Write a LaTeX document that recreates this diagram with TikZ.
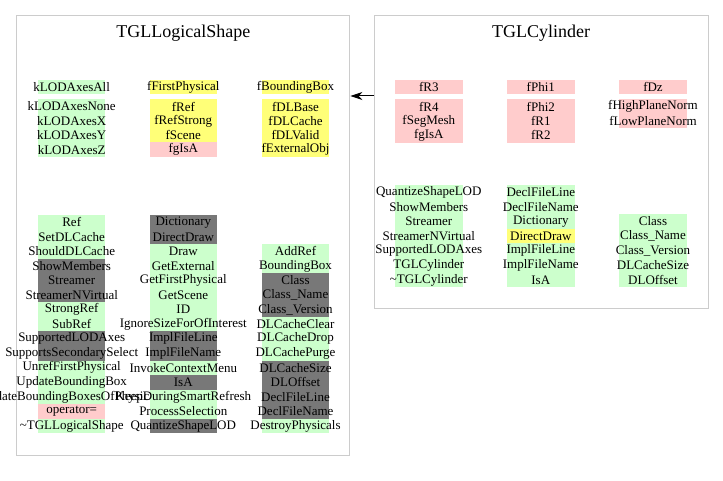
\documentclass[tikz,border=0pt]{standalone}
\usepackage{fontspec}
\setmainfont{Liberation Serif}
\usetikzlibrary{arrows.meta}
\newlength{\du}
\setlength{\du}{1pt}

\tikzset{
  member/.style={minimum width=67.5\du, minimum height=14.6\du, inner sep=0pt, outer sep=0pt,
    font=\fontsize{13}{14}\selectfont,
    execute at begin node={\hbox to 0pt\bgroup\hss},
    execute at end node={\hss\egroup}},
  pubm/.style={member, fill=pubcolor},
  protm/.style={member, fill=protcolor},
  privm/.style={member, fill=privcolor},
  inhm/.style={member, fill=inhcolor},
  classbox/.style={draw=boxcolor, line width=1\du, inner sep=0pt},
  classname/.style={inner sep=0pt, font=\fontsize{18}{20}\selectfont},
  inhline/.style={line width=1\du, -{Stealth[length=12pt, width=8pt]}}
}

\begin{document}
\begin{tikzpicture}
\pgftransformxscale{1.000000}
\pgftransformyscale{-1.000000}
\definecolor{pubcolor}{rgb}{0.800000, 1.000000, 0.800000}
\definecolor{protcolor}{rgb}{1.000000, 1.000000, 0.470000}
\definecolor{privcolor}{rgb}{1.000000, 0.800000, 0.800000}
\definecolor{inhcolor}{rgb}{0.470000, 0.470000, 0.470000}
\definecolor{boxcolor}{rgb}{0.800000, 0.800000, 0.800000}
\useasboundingbox (0\du,0\du) rectangle (723\du,481\du);
% class frames
\node[classbox, minimum width=333.3\du, minimum height=439\du] (lsBox) at (183.3\du,235.5\du) {};
\node[classbox, minimum width=334\du, minimum height=292\du] (cyBox) at (541\du,162\du) {};
\node[classname] (lsName) at (183.3\du,33\du) {TGLLogicalShape};
\node[classname] (cyName) at (541\du,33\du) {TGLCylinder};
% TGLLogicalShape data members
\node[pubm] (lsD11) at (71.7\du,87\du) {kLODAxesAll};
\node[pubm] (lsD12) at (71.7\du,106.5\du) {kLODAxesNone};
\node[pubm] (lsD13) at (71.7\du,120.9\du) {kLODAxesX};
\node[pubm] (lsD14) at (71.7\du,135.3\du) {kLODAxesY};
\node[pubm] (lsD15) at (71.7\du,149.7\du) {kLODAxesZ};
\node[protm] (lsD21) at (183.3\du,87\du) {fFirstPhysical};
\node[protm] (lsD22) at (183.3\du,106.5\du) {fRef};
\node[protm] (lsD23) at (183.3\du,120.9\du) {fRefStrong};
\node[protm] (lsD24) at (183.3\du,135.3\du) {fScene};
\node[privm] (lsD25) at (183.3\du,149.7\du) {fgIsA};
\node[protm] (lsD31) at (295.5\du,87\du) {fBoundingBox};
\node[protm] (lsD32) at (295.5\du,106.5\du) {fDLBase};
\node[protm] (lsD33) at (295.5\du,120.9\du) {fDLCache};
\node[protm] (lsD34) at (295.5\du,135.3\du) {fDLValid};
\node[protm] (lsD35) at (295.5\du,149.7\du) {fExternalObj};
% TGLLogicalShape methods
\node[pubm] (lsM101) at (71.7\du,222.3\du) {Ref};
\node[pubm] (lsM102) at (71.7\du,236.8\du) {SetDLCache};
\node[pubm] (lsM103) at (71.7\du,251.4\du) {ShouldDLCache};
\node[inhm] (lsM104) at (71.7\du,265.9\du) {ShowMembers};
\node[inhm] (lsM105) at (71.7\du,280.5\du) {Streamer};
\node[inhm] (lsM106) at (71.7\du,295.0\du) {StreamerNVirtual};
\node[pubm] (lsM107) at (71.7\du,309.6\du) {StrongRef};
\node[pubm] (lsM108) at (71.7\du,324.1\du) {SubRef};
\node[inhm] (lsM109) at (71.7\du,338.7\du) {SupportedLODAxes};
\node[inhm] (lsM110) at (71.7\du,353.2\du) {SupportsSecondarySelect};
\node[pubm] (lsM111) at (71.7\du,367.8\du) {UnrefFirstPhysical};
\node[pubm] (lsM112) at (71.7\du,382.3\du) {UpdateBoundingBox};
\node[pubm] (lsM113) at (71.7\du,396.9\du) {UpdateBoundingBoxesOfPhysicals};
\node[privm] (lsM114) at (71.7\du,411.4\du) {operator=};
\node[pubm] (lsM115) at (71.7\du,426.0\du) {\textasciitilde TGLLogicalShape};
\node[inhm] (lsM201) at (183.3\du,222.3\du) {Dictionary};
\node[inhm] (lsM202) at (183.3\du,236.8\du) {DirectDraw};
\node[pubm] (lsM203) at (183.3\du,251.4\du) {Draw};
\node[pubm] (lsM204) at (183.3\du,265.9\du) {GetExternal};
\node[pubm] (lsM205) at (183.3\du,280.5\du) {GetFirstPhysical};
\node[pubm] (lsM206) at (183.3\du,295.0\du) {GetScene};
\node[pubm] (lsM207) at (183.3\du,309.6\du) {ID};
\node[pubm] (lsM208) at (183.3\du,324.1\du) {IgnoreSizeForOfInterest};
\node[inhm] (lsM209) at (183.3\du,338.7\du) {ImplFileLine};
\node[inhm] (lsM210) at (183.3\du,353.2\du) {ImplFileName};
\node[pubm] (lsM211) at (183.3\du,367.8\du) {InvokeContextMenu};
\node[inhm] (lsM212) at (183.3\du,382.3\du) {IsA};
\node[pubm] (lsM213) at (183.3\du,396.9\du) {KeepDuringSmartRefresh};
\node[pubm] (lsM214) at (183.3\du,411.4\du) {ProcessSelection};
\node[inhm] (lsM215) at (183.3\du,426.0\du) {QuantizeShapeLOD};
\node[pubm] (lsM303) at (295.5\du,251.4\du) {AddRef};
\node[pubm] (lsM304) at (295.5\du,265.9\du) {BoundingBox};
\node[inhm] (lsM305) at (295.5\du,280.5\du) {Class};
\node[inhm] (lsM306) at (295.5\du,295.0\du) {Class\_Name};
\node[inhm] (lsM307) at (295.5\du,309.6\du) {Class\_Version};
\node[pubm] (lsM308) at (295.5\du,324.1\du) {DLCacheClear};
\node[pubm] (lsM309) at (295.5\du,338.7\du) {DLCacheDrop};
\node[pubm] (lsM310) at (295.5\du,353.2\du) {DLCachePurge};
\node[inhm] (lsM311) at (295.5\du,367.8\du) {DLCacheSize};
\node[inhm] (lsM312) at (295.5\du,382.3\du) {DLOffset};
\node[inhm] (lsM313) at (295.5\du,396.9\du) {DeclFileLine};
\node[inhm] (lsM314) at (295.5\du,411.4\du) {DeclFileName};
\node[pubm] (lsM315) at (295.5\du,426.0\du) {DestroyPhysicals};
% TGLCylinder data members
\node[privm] (cyD11) at (428.8\du,87\du) {fR3};
\node[privm] (cyD12) at (428.8\du,106.5\du) {fR4};
\node[privm] (cyD13) at (428.8\du,120.9\du) {fSegMesh};
\node[privm] (cyD14) at (428.8\du,135.3\du) {fgIsA};
\node[privm] (cyD21) at (540.8\du,87\du) {fPhi1};
\node[privm] (cyD22) at (540.8\du,106.5\du) {fPhi2};
\node[privm] (cyD23) at (540.8\du,120.9\du) {fR1};
\node[privm] (cyD24) at (540.8\du,135.3\du) {fR2};
\node[privm] (cyD31) at (653\du,87\du) {fDz};
\node[privm] (cyD32) at (653\du,106.5\du) {fHighPlaneNorm};
\node[privm] (cyD33) at (653\du,120.9\du) {fLowPlaneNorm};
% TGLCylinder methods
\node[pubm] (cyM101) at (428.8\du,192.3\du) {QuantizeShapeLOD};
\node[pubm] (cyM102) at (428.8\du,206.9\du) {ShowMembers};
\node[pubm] (cyM103) at (428.8\du,221.5\du) {Streamer};
\node[pubm] (cyM104) at (428.8\du,236.1\du) {StreamerNVirtual};
\node[pubm] (cyM105) at (428.8\du,250.7\du) {SupportedLODAxes};
\node[pubm] (cyM106) at (428.8\du,265.3\du) {TGLCylinder};
\node[pubm] (cyM107) at (428.8\du,279.9\du) {\textasciitilde TGLCylinder};
\node[pubm] (cyM201) at (540.8\du,192.3\du) {DeclFileLine};
\node[pubm] (cyM202) at (540.8\du,206.9\du) {DeclFileName};
\node[pubm] (cyM203) at (540.8\du,221.5\du) {Dictionary};
\node[protm] (cyM204) at (540.8\du,236.1\du) {DirectDraw};
\node[pubm] (cyM205) at (540.8\du,250.7\du) {ImplFileLine};
\node[pubm] (cyM206) at (540.8\du,265.3\du) {ImplFileName};
\node[pubm] (cyM207) at (540.8\du,279.9\du) {IsA};
\node[pubm] (cyM303) at (653\du,221.5\du) {Class};
\node[pubm] (cyM304) at (653\du,236.1\du) {Class\_Name};
\node[pubm] (cyM305) at (653\du,250.7\du) {Class\_Version};
\node[pubm] (cyM306) at (653\du,265.3\du) {DLCacheSize};
\node[pubm] (cyM307) at (653\du,279.9\du) {DLOffset};
% inheritance
\coordinate (inh) at (0\du,96\du);
\draw[inhline] (cyBox.west |- inh) -- (lsBox.east |- inh);
\end{tikzpicture}
\end{document}
